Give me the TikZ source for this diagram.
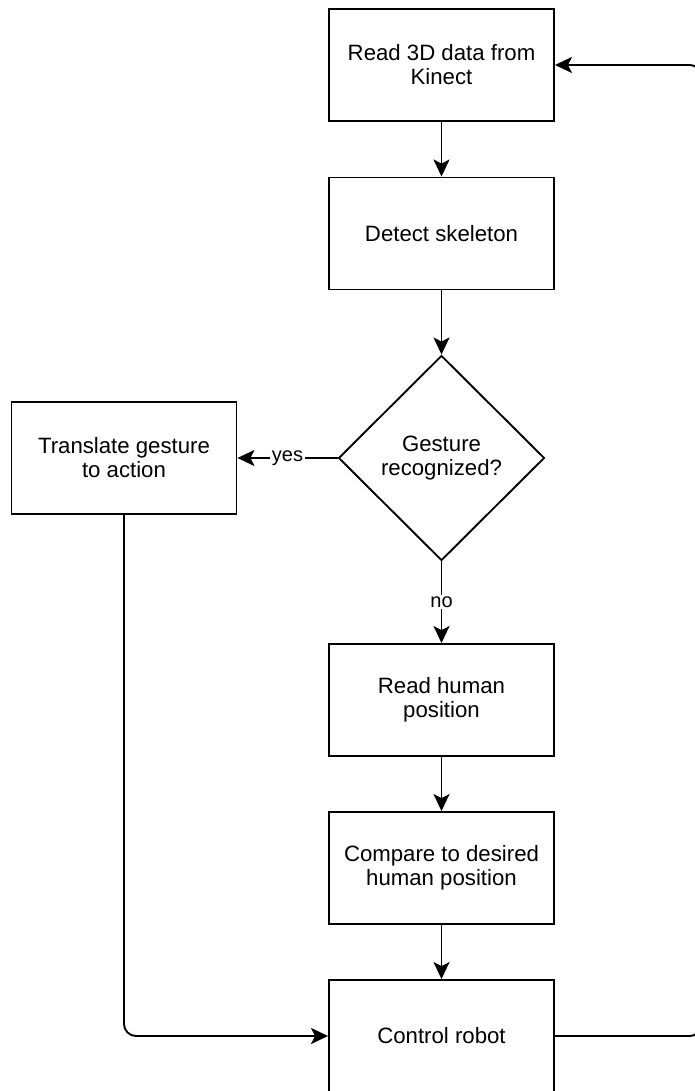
\documentclass[tikz,border=0pt]{standalone}
\usepackage{fontspec}
\setmainfont{Liberation Sans}
\usetikzlibrary{shapes.geometric,arrows.meta}

\tikzset{
  box/.style={draw, line width=1.9pt, minimum width=225pt, minimum height=112pt,
    inner sep=0pt, align=center, font=\fontsize{22.2}{24}\selectfont},
  decision/.style={draw, diamond, aspect=1, line width=1.9pt, minimum width=206pt,
    minimum height=205pt, inner sep=0pt, align=center, font=\fontsize{22.2}{24}\selectfont},
  flow/.style={line width=1.9pt, -{Stealth[length=17pt,width=16pt,inset=4pt]}},
  lbl/.style={fill=white, inner sep=1.5pt, font=\fontsize{20}{22}\selectfont}
}

\begin{document}
\begin{tikzpicture}[x=1pt,y=-1pt]
	\useasboundingbox (0,0) rectangle (694,1091);
	% Schritte
	\node[box] (kinect) at (441.5,65) {Read 3D data from\\Kinect};
	\node[box] (skeleton) at (441.5,233.5) {Detect skeleton};
	\node[decision] (gesture) at (441.5,458) {Gesture\\recognized?};
	\node[box] (translate) at (124,458) {Translate gesture\\to action};
	\node[box] (human) at (441.5,700) {Read human\\position};
	\node[box] (compare) at (441.5,868) {Compare to desired\\human position};
	\node[box] (control) at (441.5,1036) {Control robot};
	\coordinate (loopR) at (700,0);
	% Pfeile
	\draw[flow] (kinect) -- (skeleton);
	\draw[flow] (skeleton) -- (gesture);
	\draw[flow] (gesture) -- node[lbl] {yes} (translate);
	\draw[flow] (gesture) -- node[lbl] {no} (human);
	\draw[flow] (human) -- (compare);
	\draw[flow] (compare) -- (control);
	\draw[flow,rounded corners=12pt] (translate.south) |- (control.west);
	% Schleife
	\draw[flow,rounded corners=10pt] (control.east) -- (loopR |- control.east)
		-- (loopR |- kinect.east) -- (kinect.east);
\end{tikzpicture}
\end{document}
